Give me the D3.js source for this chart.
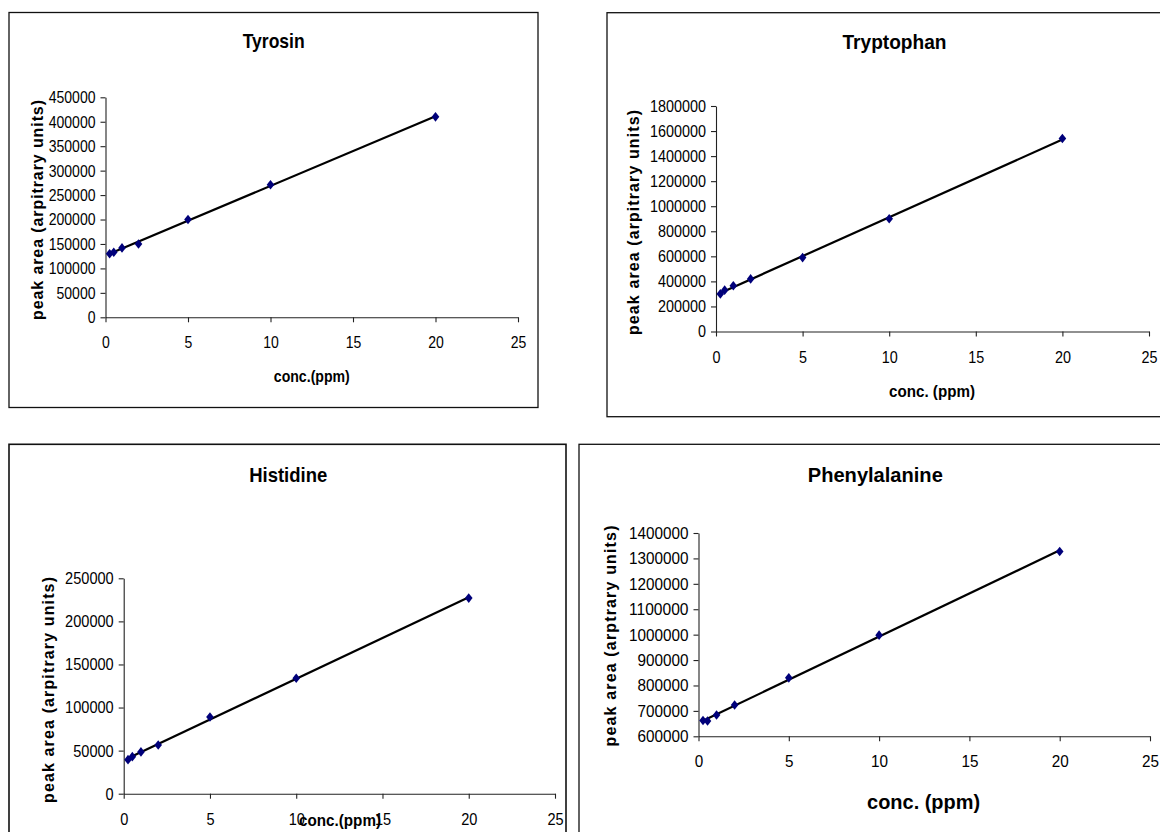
<!DOCTYPE html>
<html><head><meta charset="utf-8">
<script src="https://cdn.jsdelivr.net/npm/d3@7"></script>
<style>
body{margin:0;background:#fff;}
svg{display:block;}
text{font-family:"Liberation Sans",Arial,Helvetica,sans-serif;fill:#000;}
</style></head><body>
<svg id="c" width="1160" height="832"></svg>
<script>
// ---- data ----
const conc = [0.25, 0.5, 1, 2, 5, 10, 20];
const tyrosin = [130000, 133000, 142000, 150000, 200000, 271000, 410000];
const tryptophan = [300000, 330000, 365000, 420000, 590000, 900000, 1540000];
const histidine = [39500, 43000, 48500, 56500, 89000, 134000, 227000];
const phenylalanine = [662000, 660000, 684000, 723000, 830000, 998000, 1327000];

const xTickValues = [0, 5, 10, 15, 20, 25];
const tyrosinTicks = [0, 50000, 100000, 150000, 200000, 250000, 300000, 350000, 400000, 450000];
const tryptophanTicks = [0, 200000, 400000, 600000, 800000, 1000000, 1200000, 1400000, 1600000, 1800000];
const histidineTicks = [0, 50000, 100000, 150000, 200000, 250000];
const phenylalanineTicks = [600000, 700000, 800000, 900000, 1000000, 1100000, 1200000, 1300000, 1400000];

const titles = ["Tyrosin", "Tryptophan", "Histidine", "Phenylalanine"];
const yTitles = ["peak area (arpitrary units)", "peak area (arpitrary units)", "peak area (arpitrary units)", "peak area (arptrary units)"];
const xTitles = ["conc.(ppm)", "conc. (ppm)", "conc.(ppm)", "conc. (ppm)"];

// ---- layout ----
const panels = [
  {values: tyrosin, ticks: tyrosinTicks, box: [9, 12.5, 538, 407.5], xr: [105.5, 518], yr: [317.3, 97.3],
   title: {x: 273.7, y: 48.3, w: 62}, xt: {x: 311.8, y: 376.7, w: 76, fs: 16}, yt: {x: 37, y: 210, len: 220}, dw: 7.8},
  {values: tryptophan, ticks: tryptophanTicks, box: [607, 12.7, 1175, 416.7], xr: [716, 1149], yr: [331.5, 106],
   title: {x: 894.5, y: 49, w: 104}, xt: {x: 932, y: 391.7, w: 86, fs: 16}, yt: {x: 633, y: 222.5, len: 225}, dw: 8.0},
  {values: histidine, ticks: histidineTicks, box: [9, 444.3, 566, 845], xr: [123.7, 555], yr: [793.7, 578.3],
   title: {x: 288.2, y: 481.7, w: 78}, xt: {x: 340, y: 820.7, w: 82, fs: 16}, yt: {x: 48, y: 690, len: 226}, dw: 8.1},
  {values: phenylalanine, ticks: phenylalanineTicks, box: [579, 444.3, 1175, 845], xr: [698.5, 1150], yr: [736.3, 533],
   title: {x: 875.3, y: 481.7, w: 135}, xt: {x: 923.6, y: 801.7, w: 113, fs: 21}, yt: {x: 610, y: 636, len: 221}, dw: 8.5}
];

const svg = d3.select("#c");
svg.append("rect").attr("width", 1160).attr("height", 832).attr("fill", "#fff");

function regression(xs, ys) {
  const mx = d3.mean(xs), my = d3.mean(ys);
  let sxy = 0, sxx = 0;
  xs.forEach((x, i) => { sxy += (x - mx) * (ys[i] - my); sxx += (x - mx) * (x - mx); });
  const b = sxy / sxx;
  return {a: my - b * mx, b};
}

panels.forEach((p, i) => {
  const g = svg.append("g");
  const [bx0, by0, bx1, by1] = p.box;
  g.append("rect").attr("x", bx0).attr("y", by0).attr("width", bx1 - bx0).attr("height", by1 - by0)
    .attr("fill", "none").attr("stroke", "#111").attr("stroke-width", i === 2 ? 1.6 : 1.3);

  const x = d3.scaleLinear().domain([0, 25]).range(p.xr);
  const y = d3.scaleLinear().domain([p.ticks[0], p.ticks[p.ticks.length - 1]]).range(p.yr);

  const yAxis = g.append("g").attr("transform", `translate(${p.xr[0]},0)`)
    .call(d3.axisLeft(y).tickValues(p.ticks).tickFormat(d3.format("d")).tickSize(5).tickSizeOuter(0).tickPadding(5));
  const xAxis = g.append("g").attr("transform", `translate(0,${p.yr[0]})`)
    .call(d3.axisBottom(x).tickValues(xTickValues).tickFormat(d3.format("d")).tickSize(5).tickSizeOuter(0).tickPadding(14));
  [yAxis, xAxis].forEach(a => {
    a.select(".domain").attr("stroke", "#222").attr("stroke-width", 1.1);
    a.selectAll(".tick line").attr("stroke", "#222").attr("stroke-width", 1.1);
    a.selectAll(".tick text").attr("font-size", 17).attr("fill", "#000")
      .style("font-family", '"Liberation Sans",Arial,sans-serif')
      .attr("lengthAdjust", "spacingAndGlyphs")
      .attr("textLength", function () { return this.textContent.length * p.dw; });
  });

  // trendline
  const r = regression(conc, p.values);
  const xmin = d3.min(conc), xmax = d3.max(conc);
  g.append("line")
    .attr("x1", x(xmin)).attr("y1", y(r.a + r.b * xmin))
    .attr("x2", x(xmax)).attr("y2", y(r.a + r.b * xmax))
    .attr("stroke", "#000").attr("stroke-width", 2.2);

  // markers
  g.selectAll("path.pt").data(conc.map((c, k) => [c, p.values[k]])).enter().append("path")
    .attr("class", "pt")
    .attr("d", "M0,-4.8L3.8,0L0,4.8L-3.8,0Z")
    .attr("transform", d => `translate(${x(d[0])},${y(d[1])})`)
    .attr("fill", "#00007a");

  // titles
  g.append("text").attr("x", p.title.x).attr("y", p.title.y).attr("text-anchor", "middle")
    .attr("font-size", 21).attr("font-weight", "bold")
    .attr("textLength", p.title.w).attr("lengthAdjust", "spacingAndGlyphs").text(titles[i]);
  g.append("text").attr("x", p.xt.x).attr("y", p.xt.y).attr("text-anchor", "middle")
    .attr("dominant-baseline", "central")
    .attr("font-size", p.xt.fs).attr("font-weight", "bold")
    .attr("textLength", p.xt.w).attr("lengthAdjust", "spacingAndGlyphs").text(xTitles[i]);
  g.append("text").attr("transform", `translate(${p.yt.x},${p.yt.y}) rotate(-90)`)
    .attr("text-anchor", "middle").attr("dominant-baseline", "central")
    .attr("font-size", 16).attr("font-weight", "bold")
    .attr("textLength", p.yt.len).attr("lengthAdjust", "spacing").text(yTitles[i]);
});
</script>
</body></html>
